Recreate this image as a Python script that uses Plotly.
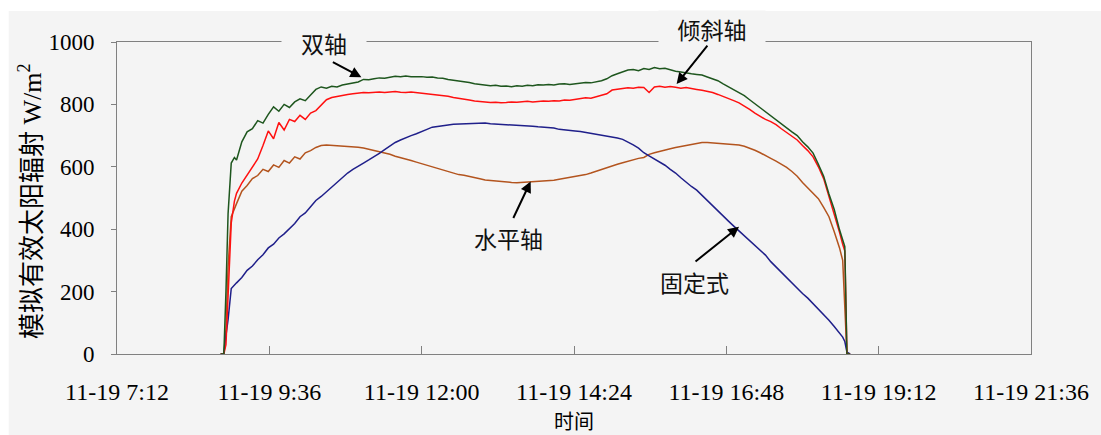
import plotly.graph_objects as go

DAY = "2023-11-19 "

times = [
    "08:50", "08:53", "08:55", "08:57",
    "09:00", "09:03", "09:05", "09:10", "09:15", "09:20", "09:25", "09:30", "09:35", "09:40", "09:45", "09:50", "09:55",
    "10:00", "10:05", "10:10", "10:15", "10:20", "10:25", "10:30", "10:35", "10:40", "10:45", "10:50", "10:55",
    "11:00", "11:05", "11:10", "11:15", "11:20", "11:25", "11:30", "11:35", "11:40", "11:45", "11:50", "11:55",
    "12:00", "12:05", "12:10", "12:15", "12:20", "12:25", "12:30", "12:35", "12:40", "12:45", "12:50", "12:55",
    "13:00", "13:05", "13:10", "13:15", "13:20", "13:25", "13:30", "13:35", "13:40", "13:45", "13:50", "13:55",
    "14:00", "14:05", "14:10", "14:15", "14:20", "14:25", "14:30", "14:35", "14:40", "14:45", "14:50", "14:55",
    "15:00", "15:05", "15:10", "15:15", "15:20", "15:25", "15:30", "15:35", "15:40", "15:45", "15:50", "15:55",
    "16:00", "16:05", "16:10", "16:15", "16:20", "16:25", "16:30", "16:35", "16:40", "16:45", "16:50", "16:55",
    "17:00", "17:05", "17:10", "17:15", "17:20", "17:25", "17:30", "17:35", "17:40", "17:45", "17:50", "17:55",
    "18:00", "18:05", "18:10", "18:15", "18:20", "18:25", "18:30", "18:35", "18:38", "18:40", "18:42", "18:45",
]

# 双轴
dual_axis = [
    0, 0, 200, 450,
    612, 630, 622, 680, 712, 722, 748, 740, 768, 792, 778, 800, 790,
    808, 818, 812, 830, 848, 856, 852, 858, 856, 862, 865, 868,
    872, 880, 879, 882, 885, 884, 888, 890, 889, 891, 889, 890,
    889, 887, 888, 885, 884, 880, 878, 875, 872, 870, 866, 864,
    862, 860, 861, 858, 859, 857, 860, 858, 861, 860, 863, 862,
    864, 862, 865, 866, 864, 866, 868, 870, 869, 872, 876, 882,
    892, 898, 905, 910, 912, 908, 915, 912, 918, 914, 916, 910,
    906, 904, 900, 898, 896, 894, 888, 882, 876, 866, 856, 846,
    838, 828, 815, 802, 790, 775, 765, 752, 738, 725, 712, 700,
    680, 664, 644, 608, 570, 513, 463, 398, 360, 344, 0, 0,
]

# 倾斜轴
tilted_axis = [
    0, 0, 30, 200,
    420, 490, 515, 548, 575, 598, 625, 668, 715, 690, 742, 718, 752,
    745, 765, 752, 772, 780, 798, 815, 822, 826, 828, 832, 834,
    836, 838, 837, 839, 840, 838, 840, 841, 839, 838, 840, 838,
    837, 835, 833, 832, 830, 826, 822, 820, 817, 814, 811, 809,
    808, 806, 807, 805, 806, 808, 807, 809, 810, 808, 810, 811,
    810, 812, 811, 814, 813, 816, 818, 821, 820, 824, 828, 834,
    846, 848, 850, 853, 852, 855, 854, 838, 856, 858, 855, 857,
    855, 852, 854, 850, 848, 845, 842, 838, 832, 826, 818, 812,
    805, 795, 784, 772, 762, 752, 745, 735, 722, 710, 697, 686,
    668, 652, 632, 600, 562, 505, 455, 390, 352, 330, 0, 0,
]

# 水平轴
horizontal_axis = [
    0, 0, 80, 280,
    440, 468, 482, 522, 540, 562, 572, 592, 585, 606, 598, 620, 612,
    632, 625, 645, 652, 662, 668, 670, 669, 668, 667, 666, 664,
    663, 660, 656, 652, 650, 645, 640, 634, 630, 625, 620, 615,
    610, 604, 600, 595, 590, 585, 580, 575, 573, 570, 565, 562,
    558, 556, 554, 553, 551, 550, 549, 550, 551, 552, 553, 553,
    555, 557, 560, 563, 566, 568, 570, 575, 580, 586, 592, 597,
    603, 608, 613, 618, 622, 627, 630, 640, 645, 650, 655, 658,
    662, 665, 670, 673, 676, 678, 678, 677, 676, 675, 674, 673,
    670, 666, 660, 653, 645, 635, 627, 618, 608, 598, 585, 570,
    550, 532, 515, 498, 470, 440, 392, 340, 300, 140, 0, 0,
]

# 固定式
fixed = [
    0, 0, 60, 110,
    210, 222, 228, 245, 268, 282, 302, 318, 340, 352, 372, 385, 402,
    418, 440, 452, 472, 492, 505, 520, 536, 550, 565, 580, 592,
    603, 612, 622, 632, 643, 655, 668, 678, 686, 694, 700, 706,
    714, 720, 727, 730, 732, 734, 736, 737, 738, 739, 740, 739,
    740, 738, 737, 738, 737, 736, 735, 734, 732, 730, 728, 727,
    726, 724, 720, 719, 717, 715, 713, 710, 708, 705, 703, 700,
    697, 692, 688, 680, 670, 660, 645, 635, 625, 616, 605, 592,
    580, 565, 550, 537, 525, 508, 492, 474, 457, 441, 426, 410,
    394, 380, 364, 348, 333, 317, 296, 279, 262, 245, 226, 210,
    194, 179, 162, 144, 127, 108, 88, 65, 54, 40, 6, 0,
]

tick_times = ["07:12", "09:36", "12:00", "14:24", "16:48", "19:12", "21:36"]
tick_labels = ["11-19 7:12", "11-19 9:36", "11-19 12:00", "11-19 14:24",
               "11-19 16:48", "11-19 19:12", "11-19 21:36"]
y_ticks = [0, 200, 400, 600, 800, 1000]

x = [DAY + t for t in times]

series = [
    ("水平轴", horizontal_axis, "#b3541e"),
    ("固定式", fixed, "#1f1f8a"),
    ("倾斜轴", tilted_axis, "#ff1010"),
    ("双轴", dual_axis, "#1e561e"),
]

fig = go.Figure()
for name, vals, col in series:
    fig.add_trace(go.Scatter(x=x, y=vals, mode="lines", name=name,
                             line=dict(color=col, width=1.5)))

BG = "#f4f4f4"
AX = "#808080"
SERIF = "'Liberation Serif', 'Times New Roman', Times, serif"
MIXED = "'Liberation Serif', 'Times New Roman', 'Noto Sans CJK SC', serif"
CJK = "'Noto Sans CJK SC', sans-serif"

fig.update_layout(
    width=1101, height=435,
    margin=dict(l=117, r=64, t=42, b=81),
    paper_bgcolor="white", plot_bgcolor=BG,
    showlegend=False,
    xaxis=dict(
        type="date",
        range=[DAY + tick_times[0], DAY + tick_times[-1]],
        tickmode="array", tickvals=[DAY + t for t in tick_times], ticktext=tick_labels,
        ticks="inside", ticklen=8, tickcolor=AX, tickwidth=1,
        showline=True, linecolor=AX, linewidth=1, mirror=True,
        showgrid=False, zeroline=False,
        tickfont=dict(family=SERIF, size=24, color="black"),
        ticklabelstandoff=16,
    ),
    yaxis=dict(
        range=[0, 1000], tickmode="array", tickvals=y_ticks,
        ticks="outside", ticklen=5, tickcolor=AX, tickwidth=1,
        showline=True, linecolor=AX, linewidth=1, mirror=True,
        showgrid=False, zeroline=False,
        tickfont=dict(family=SERIF, size=23, color="black"),
        ticklabelstandoff=12,
    ),
)

# grey card behind the chart
fig.add_shape(type="rect", xref="paper", yref="paper",
              x0=-0.1185, x1=1.1, y0=-0.3, y1=1.0997,
              fillcolor=BG, line=dict(width=0), layer="below")

labels = [
    ("双轴", (325 - 117) / 920, (354 - 44) / 311, 82),
    ("倾斜轴", (716 - 117) / 920, (354 - 30) / 311, 104),
    ("水平轴", (511 - 117) / 920, (354 - 238) / 311, None),
    ("固定式", (698 - 117) / 920, (354 - 282) / 311, None),
]
for txt, xx, yy, w in labels:
    kw = dict(width=w) if w else {}
    fig.add_annotation(x=xx, y=yy, xref="paper", yref="paper", text=txt, showarrow=False,
                       xanchor="center", yanchor="middle",
                       font=dict(family=CJK, size=23, color="#111111"),
                       bgcolor=BG, **kw)

arrows = [
    (DAY + "11:03:00", 887, -30, -16),
    (DAY + "16:01:00", 865, 32, -40),
    (DAY + "13:43:00", 553, -18, 38),
    (DAY + "17:00:00", 408, -45, 36),
]
for xx, yy, axp, ayp in arrows:
    fig.add_annotation(x=xx, y=yy, xref="x", yref="y", text="", showarrow=True,
                       ax=axp, ay=ayp, arrowhead=2, arrowsize=1.1, arrowwidth=2,
                       arrowcolor="black")

fig.add_annotation(x=(30 - 117) / 920, y=(354 - 202) / 311, xref="paper", yref="paper",
                   text="模拟有效太阳辐射 W/m<sup>2</sup>", textangle=-90, showarrow=False,
                   xanchor="center", yanchor="middle",
                   font=dict(family=MIXED, size=26, color="black"))
fig.add_annotation(x=0.5, y=(354 - 420) / 311, xref="paper", yref="paper",
                   text="时间", showarrow=False, xanchor="center", yanchor="middle",
                   font=dict(family=CJK, size=20, color="black"))

fig.write_html("out.html", config={"displayModeBar": False},
               post_script="document.body.style.margin='0';")
